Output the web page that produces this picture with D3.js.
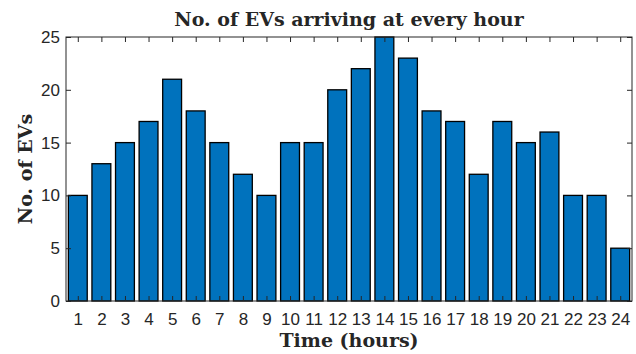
<!DOCTYPE html>
<html>
<head>
<meta charset="utf-8">
<script src="https://cdn.jsdelivr.net/npm/d3@7"></script>
<style>
  html, body { margin: 0; padding: 0; background: #fff; }
  svg { display: block; }
  .tick text { font-family: "Liberation Sans", Arial, sans-serif; font-size: 17px; fill: #262626; }
  .lbl { font-family: "DejaVu Serif", "Liberation Serif", serif; font-weight: bold; fill: #262626; }
</style>
</head>
<body>
<script>
// Hourly EV arrivals
const hours = [1,2,3,4,5,6,7,8,9,10,11,12,13,14,15,16,17,18,19,20,21,22,23,24];
const arrivals = [10,13,15,17,21,18,15,12,10,15,15,20,22,25,23,18,17,12,17,15,16,10,10,5];
const yTicks = [0,5,10,15,20,25];

const W = 636, H = 354;
const m = {left: 66, right: 4, top: 37, bottom: 53};
const iw = W - m.left - m.right, ih = H - m.top - m.bottom;
const axisColor = "#262626";

const svg = d3.select("body").append("svg").attr("width", W).attr("height", H);
const g = svg.append("g").attr("transform", `translate(${m.left},${m.top})`);

const x = d3.scaleLinear().domain([0.5, 24.5]).range([0, iw]);
const y = d3.scaleLinear().domain([0, 25]).range([ih, 0]);
const barW = (x(1) - x(0)) * 0.8;

// bars
g.selectAll("rect.bar").data(hours).join("rect")
  .attr("class", "bar")
  .attr("x", (d) => x(d) - barW / 2)
  .attr("y", (d, i) => y(arrivals[i]))
  .attr("width", barW)
  .attr("height", (d, i) => y(0) - y(arrivals[i]))
  .attr("fill", "#0072BD")
  .attr("stroke", "#000")
  .attr("stroke-width", 1.3);

const tk = 5;
function styleAxis(sel) {
  sel.select(".domain").remove();
  sel.selectAll(".tick line").attr("stroke", axisColor);
}

// bottom axis with inward ticks
g.append("g").attr("transform", `translate(0,${ih})`)
  .call(d3.axisBottom(x).tickValues(hours).tickFormat(d3.format("d")).tickSizeInner(-tk).tickSizeOuter(0).tickPadding(12))
  .call(styleAxis);
// top axis ticks only
g.append("g")
  .call(d3.axisTop(x).tickValues(hours).tickFormat("").tickSizeInner(-tk).tickSizeOuter(0))
  .call(styleAxis);
// left axis
g.append("g")
  .call(d3.axisLeft(y).tickValues(yTicks).tickFormat(d3.format("d")).tickSizeInner(-tk).tickSizeOuter(0).tickPadding(6))
  .call(styleAxis);
// right axis ticks only
g.append("g").attr("transform", `translate(${iw},0)`)
  .call(d3.axisRight(y).tickValues(yTicks).tickFormat("").tickSizeInner(-tk).tickSizeOuter(0))
  .call(styleAxis);

// axes box
g.append("rect").attr("x", 0).attr("y", 0).attr("width", iw).attr("height", ih)
  .attr("fill", "none").attr("stroke", axisColor).attr("stroke-width", 1);

// title and axis labels
svg.append("text").attr("class", "lbl")
  .attr("x", m.left + iw / 2).attr("y", 26)
  .attr("text-anchor", "middle").attr("font-size", 19)
  .text("No. of EVs arriving at every hour");
svg.append("text").attr("class", "lbl")
  .attr("x", m.left + iw / 2).attr("y", 347)
  .attr("text-anchor", "middle").attr("font-size", 19)
  .text("Time (hours)");
svg.append("text").attr("class", "lbl")
  .attr("transform", `translate(32,${m.top + ih / 2}) rotate(-90)`)
  .attr("text-anchor", "middle").attr("font-size", 19)
  .text("No. of EVs");
</script>
</body>
</html>
